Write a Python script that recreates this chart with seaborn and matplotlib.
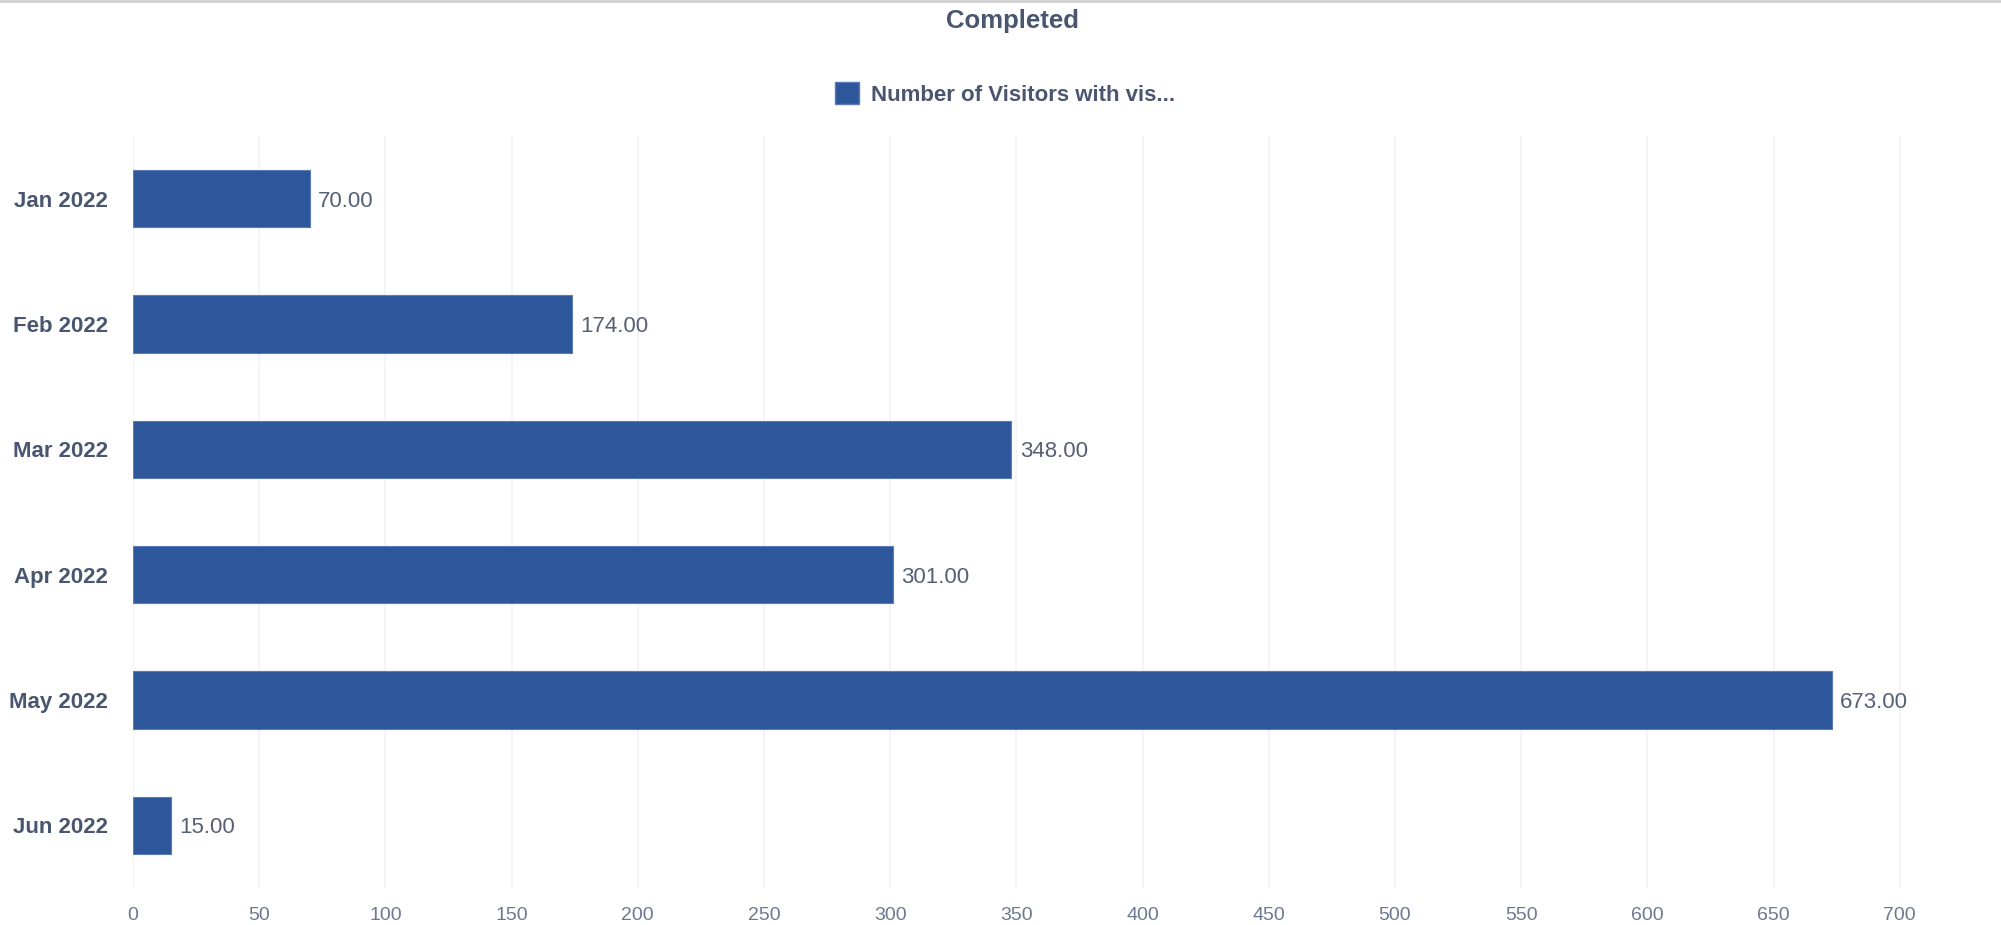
import matplotlib
matplotlib.use("Agg")
import matplotlib.pyplot as plt
from matplotlib.patches import Patch
from matplotlib.lines import Line2D
import seaborn as sns
import pandas as pd

# Monthly visitor counts
months = ["Jan 2022", "Feb 2022", "Mar 2022", "Apr 2022", "May 2022", "Jun 2022"]
visitors = [70, 174, 348, 301, 673, 15]
series_name = "Number of Visitors with vis..."
chart_title = "Completed"
x_ticks = [0, 50, 100, 150, 200, 250, 300, 350, 400, 450, 500, 550, 600, 650, 700, 750]

bar_color = "#2d569b"
label_color = "#4a5670"
tick_color = "#6d7891"
value_color = "#555f75"
grid_color = "#f2f2f4"

sns.set_theme(style="white")
plt.rcParams["font.family"] = ["Liberation Sans", "DejaVu Sans"]

df = pd.DataFrame({"month": months, "visitors": visitors})

W, H = 2001, 925
fig = plt.figure(figsize=(W / 100, H / 100), dpi=100)

# plot area in pixels: x from 133 (value 0), y band from 136 to 888
x0_px, top_px, bot_px = 133, 136, 888
px_per_unit = 2.524
xmax = 765
ax = fig.add_axes([x0_px / W, (H - bot_px) / H,
                   xmax * px_per_unit / W, (bot_px - top_px) / H])

sns.barplot(data=df, y="month", x="visitors", order=months, orient="h",
            color=bar_color, width=0.46, edgecolor="#5a7cb8", linewidth=0.8,
            saturation=1, ax=ax)

ax.set_xlim(0, xmax)
ax.set_ylim(len(months) - 0.5, -0.5)
ax.set_xticks(x_ticks)
ax.set_xticklabels([str(t) for t in x_ticks])
ax.grid(axis="x", color=grid_color, linewidth=1.2)
ax.grid(axis="y", visible=False)
ax.set_axisbelow(True)
for s in ax.spines.values():
    s.set_visible(False)

ax.set_xlabel("")
ax.set_ylabel("")
ax.tick_params(axis="x", length=0, pad=13.5, labelsize=14, labelcolor=tick_color)
ax.tick_params(axis="y", which="major", length=0, pad=18, labelsize=16,
               labelcolor=label_color)
for lbl in ax.get_yticklabels():
    lbl.set_fontweight("bold")

# separators between category bands
ax.set_yticks([i - 0.5 for i in range(len(months) + 1)], minor=True)
ax.tick_params(axis="y", which="minor", length=13, width=1, color="#e4e4e8")

texts = ax.bar_label(ax.containers[0], fmt="%.2f", padding=6, fontsize=16,
                     color=value_color)
for t in texts:
    t.set_va("center_baseline")

fig.text(1012 / W, 1 - 21 / H, chart_title, ha="center", va="center",
         fontsize=18.5, fontweight="bold", color=label_color)

handle = Patch(facecolor=bar_color, edgecolor="#5a7cb8")
leg = fig.legend([handle], [series_name], loc="center",
                 bbox_to_anchor=(1005 / W, 1 - 94 / H), frameon=False,
                 fontsize=16, handlelength=1.1, handleheight=1.1,
                 handletextpad=0.55)
for t in leg.get_texts():
    t.set_fontweight("bold")
    t.set_color(label_color)

fig.add_artist(Line2D([0, 1], [1 - 1 / H, 1 - 1 / H], transform=fig.transFigure,
                      color="#d0d0d0", linewidth=2))

fig.savefig("out.png", dpi=100)
